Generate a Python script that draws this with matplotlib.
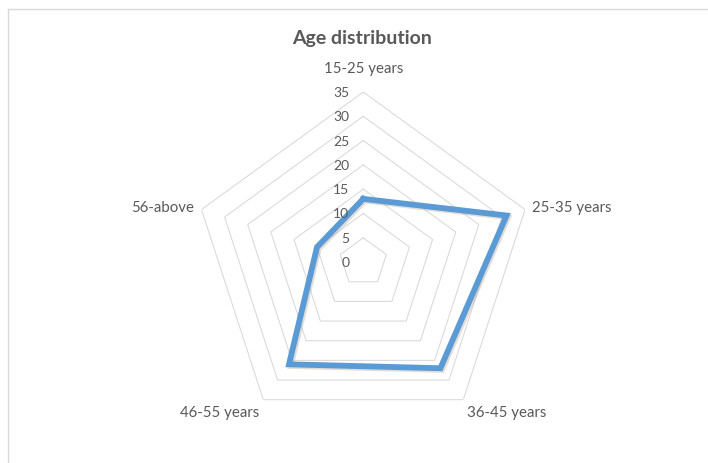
import numpy as np
import matplotlib.pyplot as plt
import matplotlib.patheffects as pe
from matplotlib.lines import Line2D

categories = ['15-25 years', '25-35 years', '36-45 years', '46-55 years', '56-above']
counts = [13, 31, 27, 26, 10]
rings = [0, 5, 10, 15, 20, 25, 30, 35]

plt.rcParams['font.family'] = ['Lato', 'DejaVu Sans']
text_col = '#595959'
grid_col = '#d9d9d9'

fig = plt.figure(figsize=(7.08, 4.64), dpi=100)
ax = fig.add_axes([0.2728, 0.0664, 0.4806, 0.7332], projection='polar')
ax.set_theta_zero_location('N')
ax.set_theta_direction(-1)

theta = np.linspace(0, 2 * np.pi, len(categories), endpoint=False)
theta_closed = np.append(theta, theta[0])

# pentagon gridlines
for r in rings[1:]:
    ax.plot(theta_closed, [r] * len(theta_closed), color=grid_col, lw=0.75, zorder=1)

vals = np.append(counts, counts[0])
ax.plot(theta_closed, vals, color='#5b9bd5', lw=4.2, solid_joinstyle='miter', zorder=3,
        path_effects=[pe.SimpleLineShadow(offset=(1.2, -1.2), shadow_color='#b0a090', alpha=0.35),
                      pe.Normal()])

ax.set_ylim(0, 35)
ax.grid(False)
ax.set_xticks([])
ax.set_yticks([])
ax.spines['polar'].set_visible(False)
ax.patch.set_visible(False)

# radial value labels up the first axis
for r in rings:
    ax.annotate(str(r), xy=(0, r), xytext=(-10, 0), textcoords='offset points',
                ha='right', va='center', fontsize=10, color=text_col)

# category labels around the outside
label_r = [38.4, 36.6, 36.3, 36.3, 36.6]
aligns = [('center', 'bottom'), ('left', 'center'), ('left', 'top'),
          ('right', 'top'), ('right', 'center')]
for t, name, lr, (ha, va) in zip(theta, categories, label_r, aligns):
    ax.text(t, lr, name, ha=ha, va=va, fontsize=10.8, color=text_col)

fig.text(0.512, 0.918, 'Age distribution', ha='center', va='center',
         fontsize=14, fontweight='bold', color=text_col)

# chart area border
fig.add_artist(Line2D([8 / 708, 8 / 708], [0, 1 - 10 / 464], color=grid_col, lw=1))
fig.add_artist(Line2D([8 / 708, 1], [1 - 10 / 464, 1 - 10 / 464], color=grid_col, lw=1))

fig.savefig('out.png', dpi=100)
